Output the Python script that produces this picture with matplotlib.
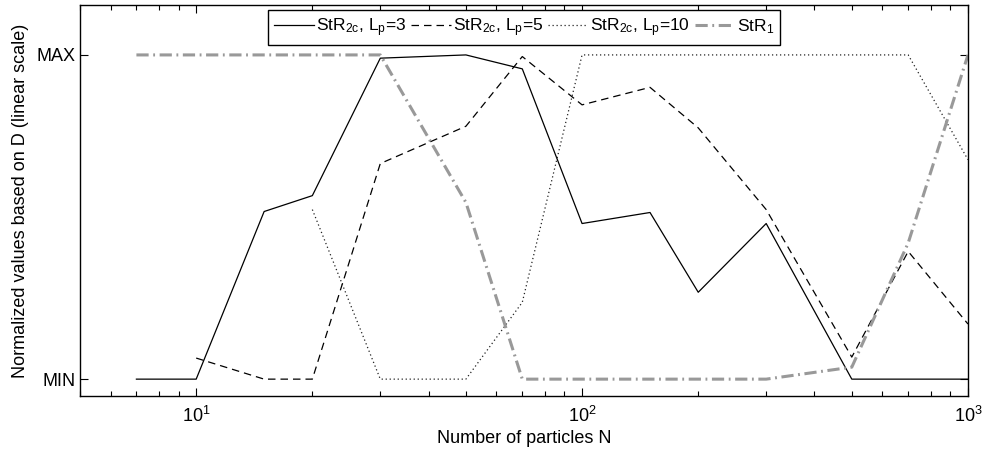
#!/usr/bin/env python
import numpy as np
import matplotlib as mpl
mpl.use('agg')
import matplotlib.pyplot as plt
from matplotlib.ticker import LogLocator, FixedLocator

mpl.rcParams['font.family'] = ['Liberation Sans', 'DejaVu Sans']
mpl.rcParams['mathtext.fontset'] = 'custom'
mpl.rcParams['mathtext.rm'] = 'Liberation Sans'
mpl.rcParams['mathtext.it'] = 'Liberation Sans:italic'
mpl.rcParams['axes.unicode_minus'] = False

############################################################
# data
############################################################
N = [7, 10, 15, 20, 30, 50, 70, 100, 150, 200, 300, 500, 700, 1000]

lp3  = [0, 0, 0.517, 0.566, 0.99, 1.0, 0.957, 0.48, 0.514, 0.268, 0.48, 0, 0, 0]
lp5  = [np.nan, 0.065, 0, 0, 0.665, 0.78, 0.995, 0.846, 0.90, 0.775, 0.523, 0.068, 0.394, 0.17]
lp10 = [np.nan, np.nan, np.nan, 0.523, 0, 0, 0.237, 1, 1, 1, 1, 1, 1, 0.677]
str1 = [1, 1, 1, 1, 1, 0.545, 0, 0, 0, 0, 0, 0.037, 0.42, 1]

labels = [r'StR$_{\rm 2c}$, L$_{\rm p}$=3',
          r'StR$_{\rm 2c}$, L$_{\rm p}$=5',
          r'StR$_{\rm 2c}$, L$_{\rm p}$=10',
          r'StR$_{\rm 1}$']

############################################################
fig = plt.figure(figsize=(9.83, 4.5), dpi=100)
ax = fig.add_axes([0.0814, 0.12, 0.9847 - 0.0814, 0.9889 - 0.12])

ax.plot(N, lp3, color='k', lw=0.9, ls='-', label=labels[0])
ax.plot(N, lp5, color='k', lw=0.9, ls=(0, (6, 4)), label=labels[1])
ax.plot(N, lp10, color='#222222', lw=0.9, ls=(0, (1, 2.2)), label=labels[2])
ax.plot(N, str1, color='#999999', lw=2.2, ls=(0, (4, 1.5, 0.6, 1.5)), label=labels[3])

ax.set_xscale('log')
ax.set_xlim(5, 1000)
ax.set_ylim(-0.052, 1.154)
ax.set_yticks([0, 1])
ax.set_yticklabels(['MIN', 'MAX'])
ax.xaxis.set_major_locator(FixedLocator([10, 100, 1000]))
ax.set_xticklabels([r'$10^{1}$', r'$10^{2}$', r'$10^{3}$'])
ax.xaxis.set_minor_locator(LogLocator(base=10, subs=np.arange(2, 10)))

ax.tick_params(which='both', direction='in', top=True, right=True, labelsize=13)
ax.tick_params(which='major', length=6, width=0.8)
ax.tick_params(which='minor', length=3.5, width=0.8)
ax.tick_params(axis='x', pad=7)
for s in ax.spines.values():
    s.set_linewidth(1.0)

ax.set_xlabel('Number of particles N', fontsize=13, labelpad=3)
ax.set_ylabel('Normalized values based on D (linear scale)', fontsize=13, labelpad=5)

leg = ax.legend(loc='upper center', ncol=4, fontsize=12.5, frameon=True, fancybox=False,
                edgecolor='k', framealpha=1, handlelength=2.3, handletextpad=0.15,
                columnspacing=0.25, borderpad=0.35, borderaxespad=0.3)
leg.get_frame().set_linewidth(1.0)

plt.savefig('out.png', dpi=100)
